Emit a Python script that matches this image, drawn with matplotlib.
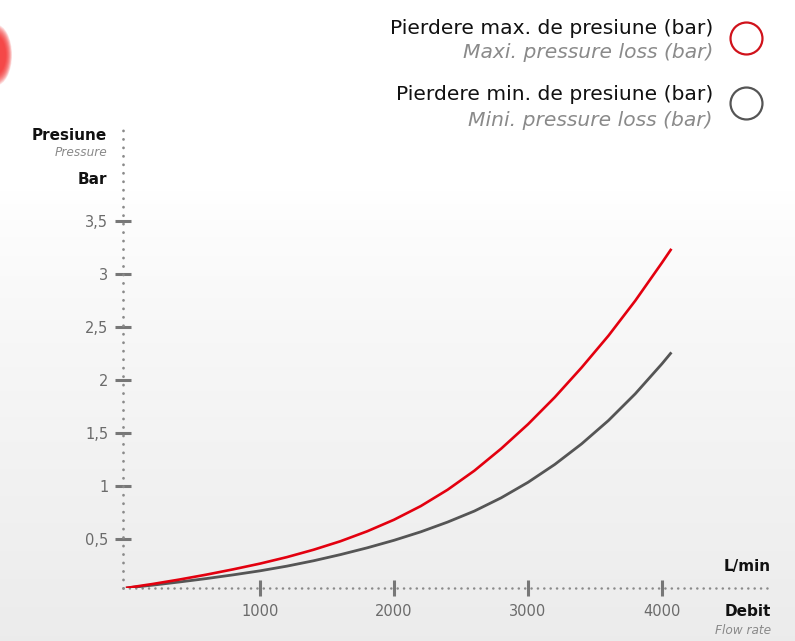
import numpy as np
import matplotlib
matplotlib.use("Agg")
import matplotlib.pyplot as plt
from matplotlib.lines import Line2D
from matplotlib.patches import Ellipse

# flow rate (L/min) and pressure loss (bar)
flow = [0, 200, 400, 600, 800, 1000, 1200, 1400, 1600, 1800, 2000, 2200,
        2400, 2600, 2800, 3000, 3200, 3400, 3600, 3800, 4000, 4070]
loss_max = [0.04, 0.078, 0.120, 0.166, 0.216, 0.270, 0.331, 0.401, 0.481,
            0.575, 0.684, 0.813, 0.967, 1.147, 1.355, 1.585, 1.84, 2.12,
            2.42, 2.75, 3.11, 3.24]
loss_min = [0.04, 0.067, 0.097, 0.129, 0.164, 0.202, 0.246, 0.297, 0.355,
            0.419, 0.490, 0.570, 0.662, 0.766, 0.891, 1.037, 1.206, 1.400,
            1.620, 1.872, 2.156, 2.263]

x_ticks = [1000, 2000, 3000, 4000]
y_ticks = [0.5, 1, 1.5, 2, 2.5, 3, 3.5]
y_tick_labels = ["0,5", "1", "1,5", "2", "2,5", "3", "3,5"]

RED = "#e3000f"
GRAY = "#555555"
W, H = 795, 641

plt.rcParams['font.family'] = ['DejaVu Sans']


def px(x, y):
    # pixel position (from top-left) to figure fraction
    return x / W, 1 - y / H


def main():
    fig = plt.figure(figsize=(W / 100, H / 100), dpi=100)

    # light background gradient
    bg = fig.add_axes([0, 0, 1, 1], zorder=-5)
    t = np.linspace(0, 1, 300)
    shade = np.where(t < 0.3, 1.0, 1.0 - 0.075 * ((t - 0.3) / 0.7) ** 0.8)
    grad = np.repeat(shade[:, None], 3, axis=1)[:, None, :]
    bg.imshow(grad, aspect='auto', extent=[0, 1, 0, 1])
    bg.set_xlim(0, 1)
    bg.set_ylim(0, 1)
    bg.axis('off')

    # cut-off red blob top left (soft edge)
    cx, cy = px(-4, 55)
    for k in np.linspace(1.45, 0.9, 12):
        fig.add_artist(Ellipse((cx, cy), 22 * k / W, 42 * k / H,
                               transform=fig.transFigure, color="#f52a2a",
                               alpha=0.14, lw=0))

    ax = fig.add_axes([123 / W, 1 - 588 / H, (773 - 123) / W, (588 - 128) / H])
    ax.set_facecolor('none')

    ax.plot(flow, loss_min, color=GRAY, lw=2.0, solid_capstyle='butt', zorder=3)
    ax.plot(flow, loss_max, color=RED, lw=1.9, solid_capstyle='butt', zorder=4)

    ax.set_xlim(-22, 4828)
    ax.set_ylim(0.04, 4.38)

    for side in ['top', 'right']:
        ax.spines[side].set_visible(False)
    ax.spines['left'].set_linestyle((0, (0.05, 3.0)))
    ax.spines['left'].set_linewidth(2.0)
    ax.spines['bottom'].set_linestyle((0, (0.05, 2.5)))
    ax.spines['bottom'].set_linewidth(1.8)
    for side in ['left', 'bottom']:
        ax.spines[side].set_color("#8a8a8a")
        ax.spines[side].set_capstyle('round')

    ax.set_xticks(x_ticks)
    ax.set_xticklabels([str(v) for v in x_ticks])
    ax.set_yticks(y_ticks)
    ax.set_yticklabels(y_tick_labels)
    ax.tick_params(axis='both', direction='inout', length=11, width=2.2,
                   color="#777777", labelcolor="#6b6b6b", labelsize=10.5)
    ax.tick_params(axis='x', pad=6)
    ax.tick_params(axis='y', pad=5)

    # axis titles
    fig.text(*px(107, 135), "Presiune", ha='right', va='center',
             fontsize=11, fontweight='bold', color="#111111")
    fig.text(*px(107, 153), "Pressure", ha='right', va='center',
             fontsize=8.7, style='italic', color="#8a8a8a")
    fig.text(*px(107, 180), "Bar", ha='right', va='center',
             fontsize=11, fontweight='bold', color="#111111")
    fig.text(*px(771, 566), "L/min", ha='right', va='center',
             fontsize=11, fontweight='bold', color="#111111")
    fig.text(*px(771, 612), "Debit", ha='right', va='center',
             fontsize=11, fontweight='bold', color="#111111")
    fig.text(*px(771, 630), "Flow rate", ha='right', va='center',
             fontsize=8.7, style='italic', color="#8a8a8a")

    # legend
    entries = [("Pierdere max. de presiune (bar)", "Maxi. pressure loss (bar)", "#d0121b", 28, 53, 38),
               ("Pierdere min. de presiune (bar)", "Mini. pressure loss (bar)", GRAY, 95, 120, 103)]
    for main_txt, sub_txt, col, y1, y2, yc in entries:
        fig.text(*px(713, y1), main_txt, ha='right', va='center',
                 fontsize=14.6, color="#111111")
        fig.text(*px(713, y2), sub_txt, ha='right', va='center',
                 fontsize=14.6, style='italic', color="#8a8a8a")
        mx, my = px(746, yc)
        fig.add_artist(Line2D([mx], [my], marker='o', markersize=23,
                              mfc='none', mec=col, mew=1.6,
                              transform=fig.transFigure))

    fig.savefig("out.png", dpi=100)


if __name__ == '__main__':
    main()
